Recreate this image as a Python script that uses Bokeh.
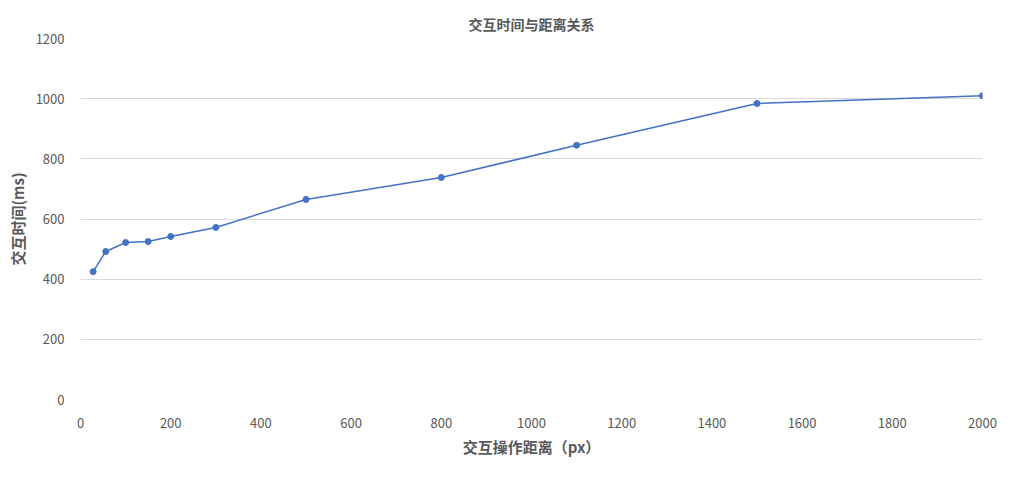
from bokeh.plotting import figure
from bokeh.models import ColumnDataSource, Range1d, FixedTicker
from bokeh.embed import file_html
from bokeh.resources import INLINE

distance_px = [28, 56, 100, 150, 200, 300, 500, 800, 1100, 1500, 2000]
time_ms = [425, 492, 522, 525, 542, 572, 665, 738, 845, 984, 1010]
x_ticks = [0, 200, 400, 600, 800, 1000, 1200, 1400, 1600, 1800, 2000]
y_ticks = [0, 200, 400, 600, 800, 1000, 1200]

FONT = "Noto Sans CJK SC"
GRAY = "#595959"

src = ColumnDataSource(dict(x=distance_px, y=time_ms))

p = figure(width=1003, height=463, output_backend="svg", toolbar_location=None,
           x_range=Range1d(0, 2000), y_range=Range1d(0, 1200),
           title="交互时间与距离关系",
           min_border_left=80, min_border_right=21, min_border_top=38, min_border_bottom=64)
p.title.align = "center"
p.title.text_font = FONT
p.title.text_font_size = "14px"
p.title.text_font_style = "bold"
p.title.text_color = GRAY

p.line("x", "y", source=src, line_color="#4472C4", line_width=1.5)
p.scatter("x", "y", source=src, size=6, fill_color="#4472C4", line_color="#4472C4")

p.xaxis.ticker = FixedTicker(ticks=x_ticks)
p.yaxis.ticker = FixedTicker(ticks=y_ticks)
for ax in (p.xaxis[0], p.yaxis[0]):
    ax.axis_line_color = None
    ax.major_tick_line_color = None
    ax.minor_tick_line_color = None
    ax.major_label_text_font = FONT
    ax.major_label_text_font_size = "13px"
    ax.major_label_text_color = GRAY
    ax.axis_label_text_font = FONT
    ax.axis_label_text_font_size = "15px"
    ax.axis_label_text_font_style = "bold"
    ax.axis_label_text_color = GRAY
p.xaxis.axis_label = "交互操作距离（px）"
p.yaxis.axis_label = "交互时间(ms)"
p.xaxis.major_label_standoff = 12
p.yaxis.major_label_standoff = 10

p.xgrid.grid_line_color = None
p.ygrid.grid_line_color = "#d9d9d9"
p.ygrid.grid_line_width = 1
p.outline_line_color = None
p.background_fill_color = "white"
p.border_fill_color = "white"

open("out.html", "w").write(file_html(p, INLINE))
